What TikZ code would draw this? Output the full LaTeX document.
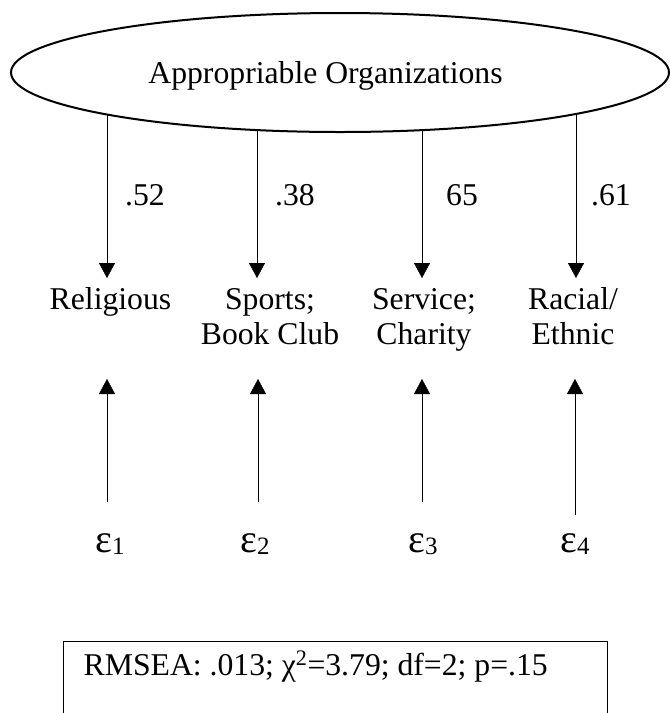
\documentclass[tikz,border=0pt]{standalone}
\usepackage{fontspec}
\setmainfont{Liberation Serif}
\usetikzlibrary{arrows.meta,shapes.geometric,backgrounds,calc}

% error term: epsilon with a lowered index
\newcommand{\errterm}[1]{ε{\fontsize{25}{25}\selectfont\raisebox{-2pt}{#1}}}

\begin{document}
\begin{tikzpicture}[x=1pt,y=-1pt,
  line width=2pt,
  every node/.style={inner sep=0pt},
  txt/.style={font=\fontsize{31.7}{35}\selectfont},
  latent/.style={draw, ellipse, fill=white, minimum width=658pt, minimum height=119pt},
  indicator/.style={txt, align=center, anchor=north, inner sep=5.5pt},
  loading/.style={txt, anchor=base west},
  errnode/.style={anchor=base, font=\fontsize{40}{44}\selectfont},
  arr/.style={-{Triangle[width=16pt,length=15pt]}},
]
\useasboundingbox (0,0) rectangle (670,713);

% latent factor
\node[latent] (lat) at (340,72.5) {};
\node[txt, anchor=base] (lattxt) at (325.5,83) {Appropriable Organizations};

% observed indicators
\node[indicator, text depth=45.5pt] (rel) at (110.5,278) {\strut Religious};
\node[indicator] (spo) at (270,278) {\strut Sports;\\\strut Book Club};
\node[indicator] (ser) at (424,278) {\strut Service;\\\strut Charity};
\node[indicator] (rac) at (573,278) {\strut Racial/\\\strut Ethnic};

% error terms
\node[errnode] (e1) at (110,552) {\errterm{1}};
\node[errnode] (e2) at (255,552) {\errterm{2}};
\node[errnode] (e3) at (423,552) {\errterm{3}};
\node[errnode] (e4) at (575,552) {\errterm{4}};

% factor loadings (arrows start behind the filled ellipse)
\begin{pgfonlayer}{background}
\draw[arr] ($(lat.center -| rel.north)+(-3.5,0)$) -- ($(rel.north)+(-3.5,0)$)
  node[loading, pos=0.6456, xshift=18pt] (l1) {.52};
\draw[arr] ($(lat.center -| spo.north)+(-13,0)$) -- ($(spo.north)+(-13,0)$)
  node[loading, pos=0.6456, xshift=18pt] (l2) {.38};
\draw[arr] ($(lat.center -| ser.north)+(-2,0)$) -- ($(ser.north)+(-2,0)$)
  node[loading, pos=0.6456, xshift=24pt] (l3) {65};
\draw[arr] ($(lat.center -| rac.north)+(3,0)$) -- ($(rac.north)+(3,0)$)
  node[loading, pos=0.6456, xshift=15pt] (l4) {.61};
\end{pgfonlayer}

% error paths
\draw[arr] ($(e1.north -| rel.south)+(-3.5,-30)$) -- ($(rel.south)+(-3.5,18)$);
\draw[arr] ($(e2.north -| spo.south)+(-12,-30)$) -- ($(spo.south)+(-12,18)$);
\draw[arr] ($(e3.north -| ser.south)+(-2,-30)$) -- ($(ser.south)+(-2,18)$);
\draw[arr] ($(e4.north -| rac.south)+(2,-17.5)$) -- ($(rac.south)+(2,18)$);

% fit statistics
\node[txt, anchor=base west] (fit) at (83.5,675) {RMSEA: .013; χ\textsuperscript{2}=3.79; df=2; p=.15};
\draw (63,720) |- (607,641) -- (607,720);
\end{tikzpicture}
\end{document}
